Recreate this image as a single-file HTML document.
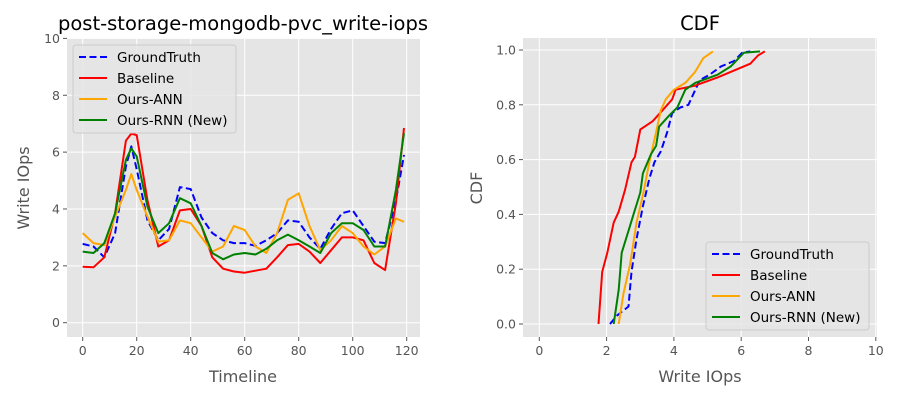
<!DOCTYPE html>
<html><head><meta charset="utf-8"><style>
html,body{margin:0;padding:0;background:#fff;}
svg{font-family:"DejaVu Sans","Liberation Sans",sans-serif;}
</style></head><body>
<svg id="c" width="900" height="400" viewBox="0 0 900 400" xmlns="http://www.w3.org/2000/svg"></svg>
<script>
// ---- Left chart data ----
const timeline = [0,4,8,12,16,18,20,24,28,32,36,40,44,48,52,56,60,64,68,72,76,80,84,88,92,96,100,104,108,112,116,119];
const groundTruth = [2.77,2.68,2.3,3.15,5.5,6.2,5.4,3.6,2.9,3.3,4.77,4.7,3.7,3.15,2.9,2.8,2.8,2.7,2.9,3.15,3.6,3.55,3.0,2.6,3.3,3.85,3.95,3.4,2.85,2.8,4.3,5.9];
const baseline = [1.97,1.95,2.3,3.85,6.4,6.65,6.6,4.3,2.68,2.9,3.95,4.0,3.4,2.3,1.9,1.8,1.76,1.83,1.9,2.3,2.73,2.77,2.5,2.1,2.55,3.0,3.0,2.9,2.1,1.85,4.2,6.85];
const oursANN = [3.15,2.8,2.73,3.73,4.67,5.23,4.67,3.73,2.85,2.9,3.6,3.5,3.0,2.5,2.68,3.4,3.26,2.68,2.45,3.15,4.32,4.55,3.4,2.55,2.9,3.4,3.15,2.68,2.4,2.68,3.67,3.55];
const oursRNN = [2.5,2.45,2.8,3.85,5.73,6.13,5.85,4.08,3.15,3.5,4.38,4.2,3.4,2.45,2.23,2.4,2.45,2.4,2.6,2.9,3.1,2.9,2.68,2.45,3.15,3.5,3.5,3.26,2.68,2.68,4.67,6.67];
const leftXTicks = [0,20,40,60,80,100,120];
const leftYTicks = [0,2,4,6,8,10];
// ---- CDF data ----
const cdfGTv = [2.1,2.3,2.65,2.74,2.89,3.08,3.27,3.42,3.61,3.8,3.95,4.19,4.43,4.77,5.06,5.4,5.79,6.03,6.27];
const cdfGTp = [0,0.03,0.064,0.19,0.31,0.43,0.53,0.59,0.63,0.7,0.77,0.79,0.8,0.89,0.91,0.94,0.96,0.99,0.995];
const cdfBLv = [1.76,1.87,2.02,2.21,2.36,2.55,2.74,2.84,3.0,3.37,3.66,3.95,4.05,4.63,5.3,5.88,6.27,6.5,6.7];
const cdfBLp = [0,0.19,0.26,0.37,0.41,0.49,0.59,0.61,0.71,0.74,0.78,0.82,0.855,0.87,0.9,0.93,0.95,0.98,0.995];
const cdfANNv = [2.36,2.5,2.7,2.89,3.08,3.27,3.47,3.61,3.76,4.0,4.34,4.63,4.87,5.16];
const cdfANNp = [0,0.11,0.22,0.37,0.47,0.59,0.7,0.78,0.82,0.855,0.88,0.92,0.97,0.995];
const cdfRNNv = [2.21,2.36,2.45,2.65,2.8,3.0,3.08,3.32,3.47,3.56,3.85,4.1,4.34,4.63,5.3,5.69,6.08,6.56];
const cdfRNNp = [0,0.125,0.26,0.34,0.4,0.48,0.55,0.62,0.65,0.72,0.76,0.79,0.855,0.88,0.91,0.94,0.99,0.995];
const rightXTicks = [0,2,4,6,8,10];
const rightYTicks = [0,0.2,0.4,0.6,0.8,1.0];

const NS="http://www.w3.org/2000/svg";
const svg=document.getElementById('c');
function mk(tag,attrs,parent){const e=document.createElementNS(NS,tag);for(const k in attrs)e.setAttribute(k,attrs[k]);(parent||svg).appendChild(e);return e;}

const lx=t=>82.7+2.7*t, ly=v=>322.7-28.43*v;
const rx=v=>539.3+33.65*v, ry=p=>324-274*p;

function axes(name,x0,y0,x1,y1){
  const r=mk('rect',{x:x0,y:y0,width:x1-x0,height:y1-y0,fill:'#e5e5e5'});
  
  
}
axes('left-plot-area',67,38,420,337);
axes('right-plot-area',523,38,877,337);

function gridTicks(name,ticks,fx,fy,isX,a0,a1,fmt){
  const g=mk('g',{});
  
  
  ticks.forEach(t=>{
    if(isX){
      const x=fx(t);
      mk('line',{x1:x,y1:a0,x2:x,y2:a1,stroke:'#fff','stroke-width':1},g);
      mk('line',{x1:x,y1:a1,x2:x,y2:a1+4,stroke:'#555','stroke-width':1},g);
      const tx=mk('text',{x:x,y:a1+18,'font-size':12.5,fill:'#555','text-anchor':'middle'},g);
      tx.textContent=fmt(t);
    } else {
      const y=fy(t);
      mk('line',{x1:a0,y1:y,x2:a1,y2:y,stroke:'#fff','stroke-width':1},g);
      mk('line',{x1:a0-4,y1:y,x2:a0,y2:y,stroke:'#555','stroke-width':1},g);
      const tx=mk('text',{x:a0-7,y:y+4.5,'font-size':12.5,fill:'#555','text-anchor':'end'},g);
      tx.textContent=fmt(t);
    }
  });
}
gridTicks('left-x-ticks',leftXTicks,lx,null,true,38,337,t=>String(t));
gridTicks('left-y-ticks',leftYTicks,null,ly,false,67,420,t=>String(t));
gridTicks('right-x-ticks',rightXTicks,rx,null,true,38,337,t=>String(t));
gridTicks('right-y-ticks',rightYTicks,null,ry,false,523,877,t=>t.toFixed(1));

function line(name,xs,ys,fx,fy,color,dash){
  const d=xs.map((x,i)=>(i?'L':'M')+fx(x).toFixed(1)+','+fy(ys[i]).toFixed(1)).join(' ');
  const p=mk('path',{d:d,fill:'none',stroke:color,'stroke-width':2,'stroke-linejoin':'round'});
  if(dash)p.setAttribute('stroke-dasharray','7,3.5');
  
  
}
line('left-groundtruth-line',timeline,groundTruth,lx,ly,'#0000ff',true);
line('left-baseline-line',timeline,baseline,lx,ly,'#ff0000',false);
line('left-ours-ann-line',timeline,oursANN,lx,ly,'#ffa500',false);
line('left-ours-rnn-line',timeline,oursRNN,lx,ly,'#008000',false);

line('cdf-groundtruth-line',cdfGTv,cdfGTp,rx,ry,'#0000ff',true);
line('cdf-baseline-line',cdfBLv,cdfBLp,rx,ry,'#ff0000',false);
line('cdf-ours-ann-line',cdfANNv,cdfANNp,rx,ry,'#ffa500',false);
line('cdf-ours-rnn-line',cdfRNNv,cdfRNNp,rx,ry,'#008000',false);

function text(name,x,y,s,size,anchor,rot){
  const t=mk('text',{x:x,y:y,'font-size':size,fill:'#555','text-anchor':'middle'});
  if(anchor==='title')t.setAttribute('fill','#000');
  if(rot)t.setAttribute('transform','rotate(-90 '+x+' '+y+')');
  t.textContent=s;
  
  
}
text('left-title',243,30,'post-storage-mongodb-pvc_write-iops',19.5,'title');
text('right-title',700,30,'CDF',19.5,'title');
text('left-x-axis-title',243,382,'Timeline',16);
text('right-x-axis-title',700,382,'Write IOps',16);
text('left-y-axis-title',29,188,'Write IOps',16,null,true);
text('right-y-axis-title',482,188,'CDF',16,null,true);

const legNames=['GroundTruth','Baseline','Ours-ANN','Ours-RNN (New)'];
const legColors=['#0000ff','#ff0000','#ffa500','#008000'];
function legend(name,x,y){
  const g=mk('g',{});
  
  
  mk('rect',{x:x,y:y,width:163,height:88,rx:3,fill:'#e5e5e5','fill-opacity':0.8,stroke:'#ccc'},g);
  legNames.forEach((n,i)=>{
    const yy=y+12+i*21;
    const l=mk('line',{x1:x+6,y1:yy,x2:x+34,y2:yy,stroke:legColors[i],'stroke-width':2},g);
    if(i===0)l.setAttribute('stroke-dasharray','7,3.5');
    const t=mk('text',{x:x+44,y:yy+5,'font-size':13.5,fill:'#000'},g);
    t.textContent=n;
  });
}
legend('left-legend',73,45);
legend('right-legend',706,242);
</script>
</body></html>
